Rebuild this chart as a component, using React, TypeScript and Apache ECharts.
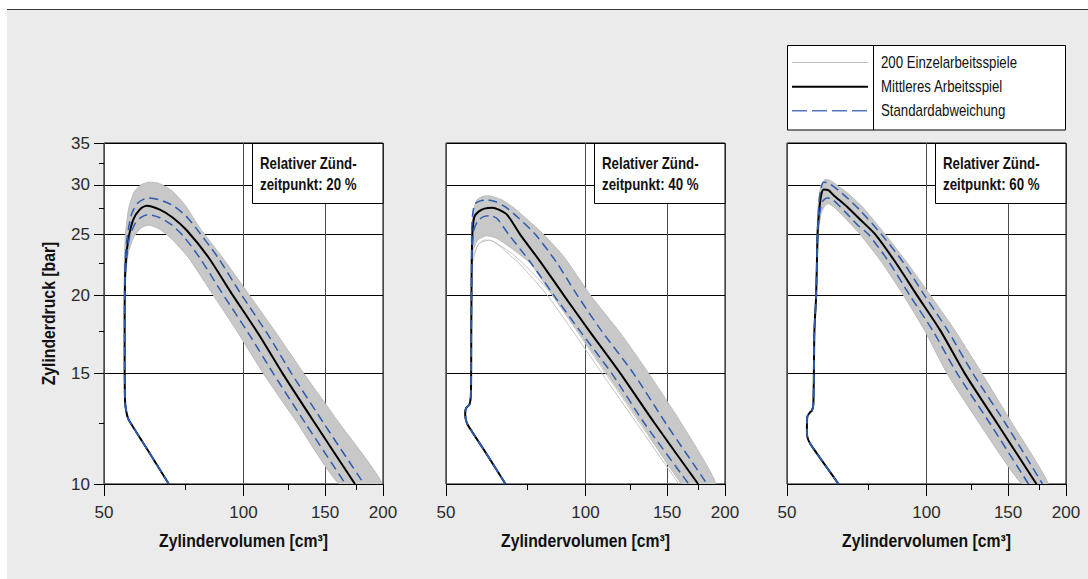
import React, { useEffect, useRef } from "react";
import * as echarts from "echarts";

// ---------- axis ticks ----------
const X_MAJOR = [50, 100, 150, 200];
const X_MINOR = [75, 125, 175];
const Y_MAJOR = [10, 15, 20, 25, 30, 35];
const Y_MINOR = [12.5, 17.5, 22.5, 27.5, 32.5];

// ---------- texts ----------
const X_TITLE = "Zylindervolumen [cm³]";
const Y_TITLE = "Zylinderdruck [bar]";
const INSET_LINE1 = "Relativer Zünd-";
const INSET_LINE2 = ["zeitpunkt: 20 %", "zeitpunkt: 40 %", "zeitpunkt: 60 %"];
const LEGEND_LABELS = ["200 Einzelarbeitsspiele", "Mittleres Arbeitsspiel", "Standardabweichung"];

// ---------- panel 1: 20 % ----------  [volume cm³, pressure bar]
const compression20 = [[69, 10], [62.5, 11.25], [57.5, 12.4], [56.4, 12.7], [55.8, 13.1], [55.5, 13.6], [55.4, 16], [55.4, 19]];
const mean20 = [[55.5, 21], [55.7, 22.5], [56.4, 24.5], [57.8, 26.4], [59.7, 27.4], [61.8, 27.8], [66, 27.4], [70.4, 26.6], [75.4, 25.4], [84, 23], [94, 20.2], [108, 17.3], [121.5, 15], [142.6, 12.5], [174, 10]];
const stdUpper20 = [[55.4, 21], [55.6, 23], [56.2, 25], [57.4, 27], [59.2, 28.1], [62.2, 28.6], [66, 28.4], [70.5, 27.8], [75, 26.8], [79, 25.6], [88, 23], [98.3, 20.2], [113, 17.3], [127, 15], [149, 12.5], [182, 10]];
const stdLower20 = [[55.5, 21], [55.9, 23], [56.8, 24.8], [58.3, 26], [60, 26.6], [62, 26.9], [66, 26.6], [70, 25.9], [74, 24.9], [80.3, 23], [89.8, 20.2], [103, 17.3], [116, 15], [136, 12.5], [166, 10]];
const bandUpper20 = [[55.4, 19], [55.3, 22], [55.6, 25], [56.5, 27.5], [58, 29.2], [60, 30], [62.5, 30.3], [65.5, 30.2], [70, 29.4], [75, 27.8], [80.5, 25.6], [90, 23], [103, 20], [119, 17.2], [135, 15], [161, 12.5], [199, 10]];
const bandLower20 = [[55.4, 19], [55.6, 21.5], [56.5, 23.5], [58, 24.8], [60, 25.6], [62.5, 25.9], [66, 25.5], [70, 24.6], [76, 23], [85, 20.3], [97, 17.5], [110.4, 15], [130.8, 12.5], [161, 10]];

// ---------- panel 2: 40 % ----------
const compression40 = [[67.2, 10], [61, 11.2], [57, 12.1], [55.5, 12.5], [55, 12.9], [55.2, 13.2], [56.2, 13.4], [56.6, 14], [56.7, 18], [56.8, 22]];
const mean40 = [[56.9, 24], [57.1, 25.6], [57.6, 26.7], [58.8, 27.2], [60.5, 27.5], [62.9, 27.6], [65, 27.4], [67.7, 26.9], [72.3, 25], [80, 22.6], [89.8, 20], [101.6, 17.6], [119, 15], [141, 12.5], [175, 10]];
const stdUpper40 = [[56.8, 25], [57.1, 27], [57.8, 28], [59.3, 28.3], [61.3, 28.4], [64, 28.2], [67.5, 27.6], [72, 26.5], [78, 25], [86.5, 22.6], [96, 20], [108, 17.6], [127, 15], [149, 12.5], [183, 10]];
const stdLower40 = [[57, 24], [57.5, 25.5], [58.6, 26.3], [60.3, 26.7], [62.3, 26.8], [64.5, 26.5], [68.3, 25], [76, 22.6], [85.5, 20], [97, 17.6], [114, 15], [134, 12.5], [167, 10]];
const bandUpper40 = [[56.7, 22], [56.8, 25], [57.3, 27.3], [58.3, 28.4], [60.3, 28.8], [62.5, 28.8], [66, 28.4], [70, 27.6], [75, 26.4], [81.3, 25], [90, 23], [102.5, 20], [119, 17.4], [137, 15], [161, 12.5], [191, 10]];
const bandLower40 = [[56.8, 22], [57.2, 23.6], [58.5, 24.5], [61, 24.9], [64, 24.7], [68, 24], [76, 22.5], [84.8, 20], [96, 17.6], [111.4, 15], [132, 12.5], [162, 10]];
const outlierA40 = [[57, 22.5], [58.5, 24], [60.5, 24.5], [63, 24.4], [66, 23.8], [69, 23.1], [72.3, 22.4], [82.7, 20], [93.6, 17.6], [108.6, 15], [129, 12.5], [159, 10]];
const outlierB40 = [[57, 23], [59, 24.2], [62, 24.5], [65, 24.1], [70, 23.2], [76, 21.9], [84, 20.2], [95, 17.7], [110, 15.1], [131, 12.5], [161, 10]];

// ---------- panel 3: 60 % ----------
const compression60 = [[64.6, 10], [60, 10.8], [56.1, 11.6], [55.3, 11.9], [55.2, 12.2], [55.3, 12.8], [56, 13], [56.6, 13.1], [57, 13.4], [57.3, 17.6], [57.8, 20], [58.2, 25]];
const mean60 = [[58.6, 27], [59.2, 28.8], [60, 29.5], [61.5, 29.4], [63, 28.9], [67.4, 27.7], [72, 26.4], [77.6, 25], [86, 22.5], [95.4, 20], [107, 17.6], [121, 15], [142, 12.5], [172.7, 10]];
const stdUpper60 = [[58.5, 27.5], [59, 29.3], [60, 30.3], [61.5, 30.2], [63.5, 29.7], [67.5, 28.6], [72, 27.3], [80, 25], [89, 22.6], [99, 20], [111, 17.6], [126, 15], [148, 12.5], [178, 10]];
const stdLower60 = [[58.8, 27], [59.6, 28.2], [61, 28.6], [62.5, 28.5], [67, 27.1], [71, 25.9], [75, 25], [83, 22.6], [92, 20], [103, 17.6], [116.5, 15], [137, 12.5], [166, 10]];
const bandUpper60 = [[57.8, 20], [58, 25], [58.4, 28], [59.2, 30], [60.4, 30.6], [62, 30.5], [64, 30], [68, 29], [73, 27.6], [81.5, 25], [91, 22.5], [101.9, 20], [115, 17.6], [131.8, 15], [153, 12.5], [183, 10]];
const bandLower60 = [[57.8, 20], [58.4, 25], [59.2, 27], [60.5, 27.9], [61.5, 28], [63, 27.7], [66, 26.8], [72, 25], [80, 22.6], [89.2, 20], [99, 17.6], [110.8, 15], [130, 12.5], [160.7, 10]];

const PANELS = [
  { compression: compression20, mean: mean20, up: stdUpper20, low: stdLower20, bandUp: bandUpper20, bandLow: bandLower20, outliers: [] as number[][][] },
  { compression: compression40, mean: mean40, up: stdUpper40, low: stdLower40, bandUp: bandUpper40, bandLow: bandLower40, outliers: [outlierA40, outlierB40] },
  { compression: compression60, mean: mean60, up: stdUpper60, low: stdLower60, bandUp: bandUpper60, bandLow: bandLower60, outliers: [] as number[][][] },
];

// ---------- layout ----------
const GRID_LEFT = [104, 446, 787];
const GRID_TOP = 143;
const GRID_W = 279;
const GRID_H = 341;

const FONT = "'Liberation Sans', Arial, sans-serif";
const BLUE = "#2d5bb0";
const GRAY_FILL = "#c8c8c8";
const GRAY_LINE = "#bababa";
const SMOOTH = 0.25;

const lg = (v: number) => Math.log10(v);
const toXY = (pts: number[][]) => pts.map(([v, p]) => [lg(v), lg(p)]);
const fmt = (val: number) => String(Math.round(Math.pow(10, val) * 10) / 10);

function buildOption() {
  const grid: any[] = [];
  const xAxis: any[] = [];
  const yAxis: any[] = [];
  const series: any[] = [];
  const graphic: any[] = [];

  PANELS.forEach((panel, i) => {
    grid.push({
      left: GRID_LEFT[i], top: GRID_TOP, width: GRID_W, height: GRID_H,
      show: true, backgroundColor: "#ffffff", borderColor: "#000", borderWidth: 1,
    });
    xAxis.push({
      type: "value", gridIndex: i, position: "bottom", min: lg(50), max: lg(200),
      axisLine: { show: false },
      axisTick: { show: true, customValues: X_MAJOR.map(lg), length: 12, inside: false, lineStyle: { color: "#000", width: 1 } },
      axisLabel: { show: true, customValues: X_MAJOR.map(lg), formatter: fmt, margin: 20, fontSize: 17, fontFamily: FONT, color: "#2a2a2a" },
      splitLine: { show: true, lineStyle: { color: "#4a4a4a", width: 1 } },
    });
    xAxis.push({
      type: "value", gridIndex: i, position: "bottom", min: lg(50), max: lg(200),
      axisLine: { show: false },
      axisTick: { show: true, customValues: X_MINOR.map(lg), length: 6, inside: false, lineStyle: { color: "#000", width: 1 } },
      axisLabel: { show: false },
      splitLine: { show: false },
    });
    const first = i === 0;
    yAxis.push({
      type: "value", gridIndex: i, position: "left", min: lg(10), max: lg(35),
      axisLine: { show: false },
      axisTick: { show: first, customValues: Y_MAJOR.map(lg), length: 10, inside: false, lineStyle: { color: "#000", width: 1 } },
      axisLabel: { show: first, customValues: Y_MAJOR.map(lg), formatter: fmt, margin: 14, fontSize: 17, fontFamily: FONT, color: "#2a2a2a" },
      splitLine: { show: true, lineStyle: { color: "#000", width: 1 } },
    });
    yAxis.push({
      type: "value", gridIndex: i, position: "left", min: lg(10), max: lg(35),
      axisLine: { show: false },
      axisTick: { show: first, customValues: Y_MINOR.map(lg), length: 5, inside: false, lineStyle: { color: "#000", width: 1 } },
      axisLabel: { show: false },
      splitLine: { show: false },
    });

    const xi = 2 * i;
    const yi = 2 * i;
    const poly = [...panel.bandUp, ...[...panel.bandLow].reverse()];
    series.push({
      type: "custom", xAxisIndex: xi, yAxisIndex: yi, silent: true, clip: true,
      data: [[lg(100), lg(20)]],
      renderItem: (_params: any, api: any) => ({
        type: "polygon",
        shape: { points: poly.map(([v, p]) => api.coord([lg(v), lg(p)])), smooth: 0.15 },
        style: { fill: GRAY_FILL, stroke: GRAY_LINE, lineWidth: 1 },
      }),
    });
    panel.outliers.forEach((o) => {
      series.push({
        type: "line", xAxisIndex: xi, yAxisIndex: yi, data: toXY(o), showSymbol: false, symbol: "none", silent: true, smooth: SMOOTH,
        lineStyle: { color: "#c2c2c2", width: 1 },
      });
    });
    series.push({
      type: "line", xAxisIndex: xi, yAxisIndex: yi, data: toXY([...panel.compression, ...panel.mean]),
      showSymbol: false, symbol: "none", silent: true, smooth: SMOOTH, lineStyle: { color: "#000", width: 2 },
    });
    [panel.up, panel.low].forEach((s) => {
      series.push({
        type: "line", xAxisIndex: xi, yAxisIndex: yi, data: toXY([...panel.compression, ...s]),
        showSymbol: false, symbol: "none", silent: true, smooth: SMOOTH,
        lineStyle: { color: BLUE, width: 1.5, type: [9, 5] },
      });
    });

    const bx = GRID_LEFT[i] + 148.5;
    graphic.push({
      type: "rect", z: 100, shape: { x: bx, y: GRID_TOP + 0.5, width: GRID_LEFT[i] + GRID_W - bx, height: 60 },
      style: { fill: "#fff", stroke: "#000", lineWidth: 1 },
    });
    [INSET_LINE1, INSET_LINE2[i]].forEach((t, k) => {
      graphic.push({
        type: "text", z: 101, x: bx + 7.5, y: 163.3 + k * 20.8, scaleX: 0.83,
        style: { text: t, fontFamily: FONT, fontWeight: "bold", fontSize: 16, fill: "#111", textAlign: "left", textVerticalAlign: "middle", align: "left", verticalAlign: "middle" },
      });
    });
    graphic.push({
      type: "text", z: 101, x: GRID_LEFT[i] + GRID_W / 2, y: 541, scaleX: 0.876,
      style: { text: X_TITLE, fontFamily: FONT, fontWeight: "bold", fontSize: 18, fill: "#111", textAlign: "center", textVerticalAlign: "middle", align: "center", verticalAlign: "middle" },
    });
  });

  graphic.push({
    type: "text", z: 101, x: 49, y: 313.5, rotation: Math.PI / 2, scaleX: 0.876,
    style: { text: Y_TITLE, fontFamily: FONT, fontWeight: "bold", fontSize: 18, fill: "#111", textAlign: "center", textVerticalAlign: "middle", align: "center", verticalAlign: "middle" },
  });

  graphic.push({ type: "rect", z: 100, shape: { x: 787.5, y: 45.5, width: 278, height: 84.5 }, style: { fill: "#fff", stroke: "#000", lineWidth: 1 } });
  graphic.push({ type: "line", z: 101, shape: { x1: 873.5, y1: 45.5, x2: 873.5, y2: 130 }, style: { stroke: "#000", lineWidth: 1 } });
  const rowY = [62.5, 86.8, 110.8];
  graphic.push({ type: "line", z: 101, shape: { x1: 792, y1: rowY[0], x2: 868, y2: rowY[0] }, style: { stroke: "#bdbdbd", lineWidth: 1 } });
  graphic.push({ type: "line", z: 101, shape: { x1: 792, y1: rowY[1], x2: 868, y2: rowY[1] }, style: { stroke: "#000", lineWidth: 2 } });
  graphic.push({ type: "line", z: 101, shape: { x1: 792, y1: rowY[2], x2: 868, y2: rowY[2] }, style: { stroke: "#5577c0", lineWidth: 1.5, lineDash: [15, 5] } });
  LEGEND_LABELS.forEach((t, k) => {
    graphic.push({
      type: "text", z: 101, x: 881, y: rowY[k], scaleX: 0.827,
      style: { text: t, fontFamily: FONT, fontSize: 16, fill: "#111", textAlign: "left", textVerticalAlign: "middle", align: "left", verticalAlign: "middle" },
    });
  });

  return {
    animation: false,
    backgroundColor: "transparent",
    grid, xAxis, yAxis, series, graphic,
  };
}

export default function App() {
  const ref = useRef<HTMLDivElement>(null);
  useEffect(() => {
    const chart = echarts.init(ref.current as HTMLDivElement, null, { renderer: "svg" });
    chart.setOption(buildOption() as any);
    return () => chart.dispose();
  }, []);
  return (
    <div style={{ position: "absolute", left: 0, top: 0, width: 1088, height: 579 }}>
      <div style={{ position: "absolute", left: 7, top: 9, width: 1081, height: 570, background: "#ebebeb", borderTop: "1.5px solid #3a3a3a", boxSizing: "border-box" }} />
      <div ref={ref} style={{ position: "absolute", left: 0, top: 0, width: 1088, height: 579 }} />
    </div>
  );
}
